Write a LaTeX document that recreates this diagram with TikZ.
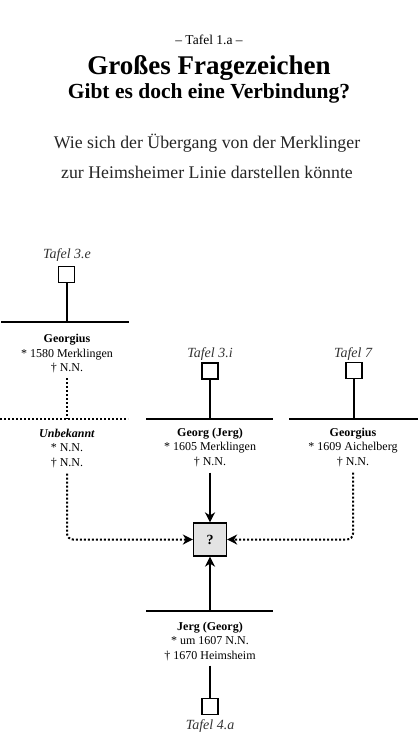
\documentclass[tikz,border=0pt]{standalone}
\usepackage{fontspec}
\setmainfont{Liberation Serif}
\usetikzlibrary{arrows.meta}
\begin{document}
\begin{tikzpicture}[x=1pt,y=-1pt,
  solidline/.style={line width=2pt},
  dotline/.style={line width=2pt,dash pattern=on 2pt off 2pt},
  tafbox/.style={draw,line width=1.2pt,minimum size=16pt,inner sep=0pt,fill=white},
  taflabel/.style={font=\itshape\fontsize{14}{16}\selectfont,anchor=base,inner sep=0pt,text=black!80},
  person/.style={align=center,font=\fontsize{12}{14.5}\selectfont,anchor=north,inner sep=0pt},
  arr/.style={line width=2pt,-{Stealth[length=10pt,width=10pt,inset=3pt]}},
  titletext/.style={anchor=base,inner sep=0pt},
]
\useasboundingbox (0,0) rectangle (418,734);

% titles
\node[titletext,font=\fontsize{13.5}{16}\selectfont] (tafel) at (209,44) {– Tafel 1.a –};
\node[titletext,font=\bfseries\fontsize{27}{30}\selectfont] (title) at (209,74) {Großes Fragezeichen};
\node[titletext,font=\bfseries\fontsize{21.5}{24}\selectfont] (subtitle) at (209,98) {Gibt es doch eine Verbindung?};
\node[titletext,font=\fontsize{17.8}{20}\selectfont,text=black!85] (desc1) at (207,148) {Wie sich der Übergang von der Merklinger};
\node[titletext,font=\fontsize{17.8}{20}\selectfont,text=black!85] (desc2) at (207,178) {zur Heimsheimer Linie darstellen könnte};

% left column
\node[taflabel] (lab3e) at (67,258) {Tafel 3.e};
\node[tafbox] (t3e) at (66.5,274.5) {};
\coordinate (h1a) at (1,322);
\coordinate (h1b) at (129,322);
\draw[solidline] (h1a) -- (h1b);
\draw[solidline] (t3e.south) -- (t3e.south |- h1a);
\node[person] (geo1) at (67,334) {\textbf{Georgius}\\* 1580 Merklingen\\† N.N.};
\coordinate (d1a) at (0,419);
\coordinate (d1b) at (128,419);
\draw[dotline] (d1a) -- (d1b);
\draw[dotline] ([yshift=-5pt]geo1.south) -- (geo1.south |- d1a);
\node[person] (unb) at (67,428.5) {\textbf{\textit{Unbekannt}}\\* N.N.\\† N.N.};

% middle column
\node[taflabel] (lab3i) at (210,357) {Tafel 3.i};
\node[tafbox] (t3i) at (210,371) {};
\coordinate (h2a) at (146,419);
\coordinate (h2b) at (273,419);
\draw[solidline] (h2a) -- (h2b);
\draw[solidline] (t3i.south) -- (t3i.south |- h2a);
\node[person] (georg) at (210,427.5) {\textbf{Georg (Jerg)}\\* 1605 Merklingen\\† N.N.};

% right column
\node[taflabel] (lab7) at (353,357) {Tafel 7};
\node[tafbox] (t7) at (354,370.5) {};
\coordinate (h3a) at (289,419);
\coordinate (h3b) at (418,419);
\draw[solidline] (h3a) -- (h3b);
\draw[solidline] (t7.south) -- (t7.south |- h3a);
\node[person] (geo3) at (353,427.5) {\textbf{Georgius}\\* 1609 Aichelberg\\† N.N.};

% question box
\node[draw,line width=1.2pt,fill=black!11,minimum size=33pt,inner sep=0pt,font=\bfseries\fontsize{14}{16}\selectfont] (q) at (210,539.5) {?};

% bottom
\coordinate (h4a) at (146,611);
\coordinate (h4b) at (273,611);
\coordinate (h4m) at (210,611);
\draw[solidline] (h4a) -- (h4b);
\node[person] (jerg) at (210,621.5) {\textbf{Jerg (Georg)}\\* um 1607 N.N.\\† 1670 Heimsheim};
\node[tafbox] (t4a) at (210,706.5) {};
\node[taflabel] (lab4a) at (210,729) {Tafel 4.a};
\draw[solidline] ([yshift=-5pt]jerg.south) -- (t4a.north);

% connectors to question box
\draw[arr] ([yshift=-6pt]georg.south) -- (q.north);
\draw[arr] (h4m) -- (q.south);
\draw[dotline,rounded corners=6pt,-{Stealth[length=10pt,width=10pt,inset=3pt]}] ([yshift=-6pt]unb.south) |- (q.west);
\draw[dotline,rounded corners=6pt,-{Stealth[length=10pt,width=10pt,inset=3pt]}] ([yshift=-6pt]geo3.south) |- (q.east);
\end{tikzpicture}
\end{document}
